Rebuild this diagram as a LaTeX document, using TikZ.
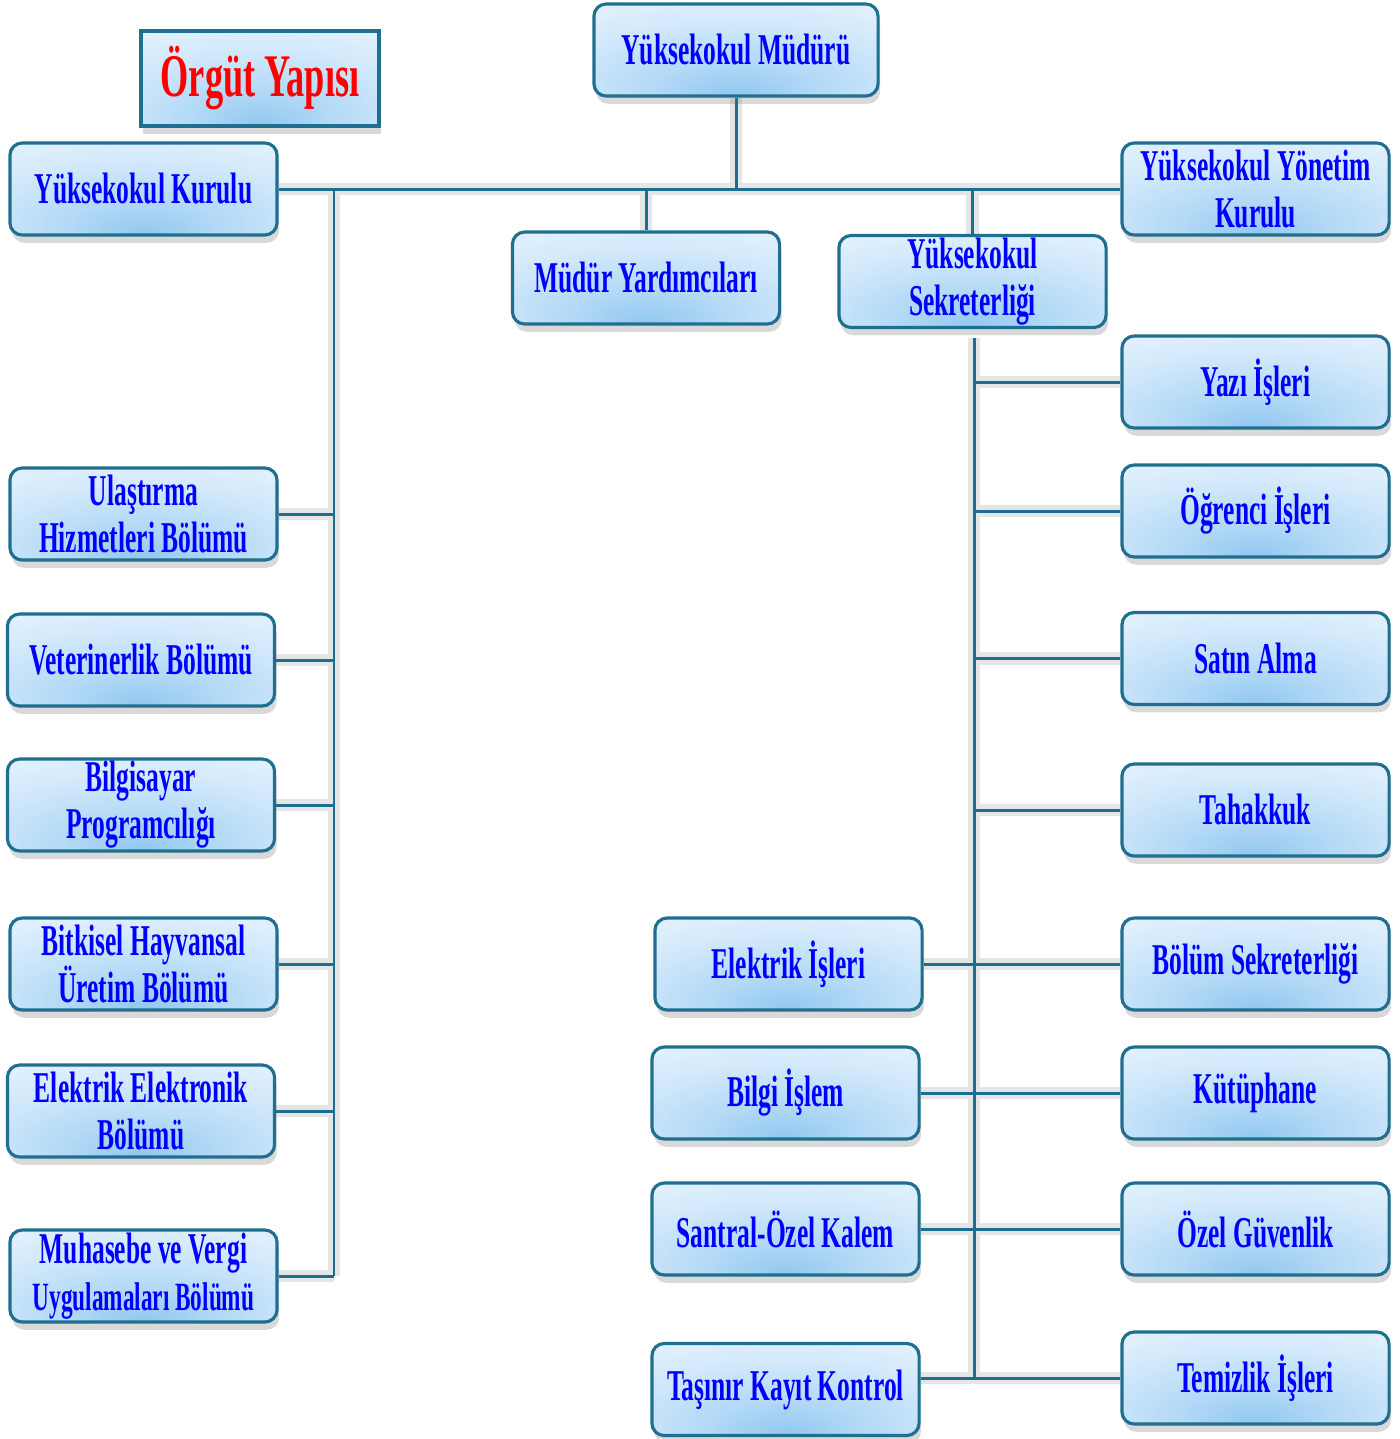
\documentclass[tikz,border=0pt]{standalone}
\usepackage{fontspec}
\setmainfont{Liberation Serif}[FakeStretch=0.58]
\newfontfamily\titlefont{Liberation Serif Bold}[FakeStretch=0.6]
\usepackage{xcolor}
\usepackage{tikz}
\usetikzlibrary{calc}
\usetikzlibrary{shadows,backgrounds}

\definecolor{BoxLine}{HTML}{1F6F91}
\definecolor{BoxMid}{HTML}{93C8F0}
\definecolor{BoxMidA}{HTML}{B2D9F6}
\definecolor{BoxMidB}{HTML}{D3E9FB}
\definecolor{BoxEdge}{HTML}{F0F7FE}
\definecolor{LinkLine}{HTML}{1B6E90}

\pgfdeclareradialshading{BoxShade}{\pgfpoint{0bp}{-24bp}}{%
	color(0bp)=(BoxMid); color(14bp)=(BoxMidA); color(32bp)=(BoxMidB);
	color(55bp)=(BoxEdge); color(100bp)=(BoxEdge)}

\tikzset{%Global config
	color = black ,
	%Styles
	Box/.style={
		rectangle,
		rounded corners=3.5pt,
		draw=BoxLine,
		line width=0.9pt,
		shading=BoxShade,
		minimum width=2.67cm,
		minimum height=0.92cm,
		inner xsep=2pt,
		inner ysep=-1pt,
		align=center,
		text=blue,
		font=\bfseries\fontsize{12.5}{13.4}\selectfont,
		drop shadow={shadow xshift=0.6pt, shadow yshift=-2.2pt, opacity=0.3},
	},
	Title/.style={
		Box,
		sharp corners,
		line width=0.9pt,
		minimum width=2.38cm,
		minimum height=0.95cm,
		text=red,
		font=\titlefont\fontsize{17.2}{18}\selectfont,
	},
	Link/.style={
		draw=LinkLine,
		line width=0.85pt,
	},
}

% all connectors, drawn twice (shadow + line)
\newcommand{\DrawLinks}{%
	\draw[Link] (kurul.east) -- (ykurul.west);
	\draw[Link] (mudur.south) -- (mudur.south |- kurul.east);
	\draw[Link] (myard.north) -- (myard.north |- kurul.east);
	\draw[Link] (sekr.north) -- (sekr.north |- kurul.east);
	% left trunk
	\draw[Link] (lt) -- (lt |- muh.east);
	\foreach \n in {ulas,vet,bilg,bitk,elel,muh}
		\draw[Link] (\n.east) -- (lt |- \n.east);
	% right trunk
	\draw[Link] (rt) -- (rt |- tem.west);
	\foreach \n in {yazi,ogr,satin,tah,bsek,kut,guv,tem}
		\draw[Link] (rt |- \n.west) -- (\n.west);
	\foreach \n in {elek,bilgi,santral}
		\draw[Link] (\n.east) -- (rt |- \n.east);
	\draw[Link] (tasinir.east |- tem.west) -- (rt |- tem.west);
}

\begin{document}
\begin{tikzpicture}[x=0.01cm, y=-0.01cm]
	\useasboundingbox (0,0) rectangle (1399,1439);
	
	% top
	\node[Title] (title) at (260,78.5) {Örgüt Yapısı};
	\node[Box, minimum width=2.84cm] (mudur) at (736,50) {Yüksekokul Müdürü};
	\node[Box] (kurul) at (143.5,189) {Yüksekokul Kurulu};
	\node[Box] (ykurul) at (1255.5,189) {Yüksekokul Yönetim\\Kurulu};
	\node[Box] (myard) at (646,278) {Müdür Yardımcıları};
	\node[Box] (sekr) at (972.5,281.5) {Yüksekokul\\Sekreterliği};
	
	% left column
	\node[Box] (ulas) at (143.5,514) {Ulaştırma\\Hizmetleri Bölümü};
	\node[Box] (vet) at (141,660) {Veterinerlik Bölümü};
	\node[Box] (bilg) at (141,805) {Bilgisayar\\Programcılığı};
	\node[Box] (bitk) at (143.5,964) {Bitkisel Hayvansal\\Üretim Bölümü};
	\node[Box] (elel) at (141,1111) {Elektrik Elektronik\\Bölümü};
	\node[Box] (muh) at (143.5,1276) {Muhasebe ve Vergi\\{\fontsize{11.4}{13.4}\selectfont Uygulamaları Bölümü}};
	
	% right column
	\node[Box] (yazi) at (1255.5,382) {Yazı İşleri};
	\node[Box] (ogr) at (1255.5,511) {Öğrenci İşleri};
	\node[Box] (satin) at (1255.5,658.5) {Satın Alma};
	\node[Box] (tah) at (1255.5,810) {Tahakkuk};
	\node[Box] (bsek) at (1255.5,964) {Bölüm Sekreterliği};
	\node[Box] (kut) at (1255.5,1093) {Kütüphane};
	\node[Box] (guv) at (1255.5,1229) {Özel Güvenlik};
	\node[Box] (tem) at (1255.5,1378) {Temizlik İşleri};
	
	% middle column
	\node[Box] (elek) at (788.5,964) {Elektrik İşleri};
	\node[Box] (bilgi) at (785.5,1093) {Bilgi İşlem};
	\node[Box] (santral) at (785.5,1229) {Santral-Özel Kalem};
	\node[Box] (tasinir) at (785.5,1389.5) {Taşınır Kayıt Kontrol};
	
	\coordinate (lt) at (334,189);
	\coordinate (rt) at ($(sekr.south)+(1.5,9)$);
	
	\begin{scope}[on background layer, transform canvas={yshift=-2.2pt},
		Link/.style={draw=black!10, line width=3.5pt}]
		\DrawLinks
	\end{scope}
	\DrawLinks
\end{tikzpicture}
\end{document}
